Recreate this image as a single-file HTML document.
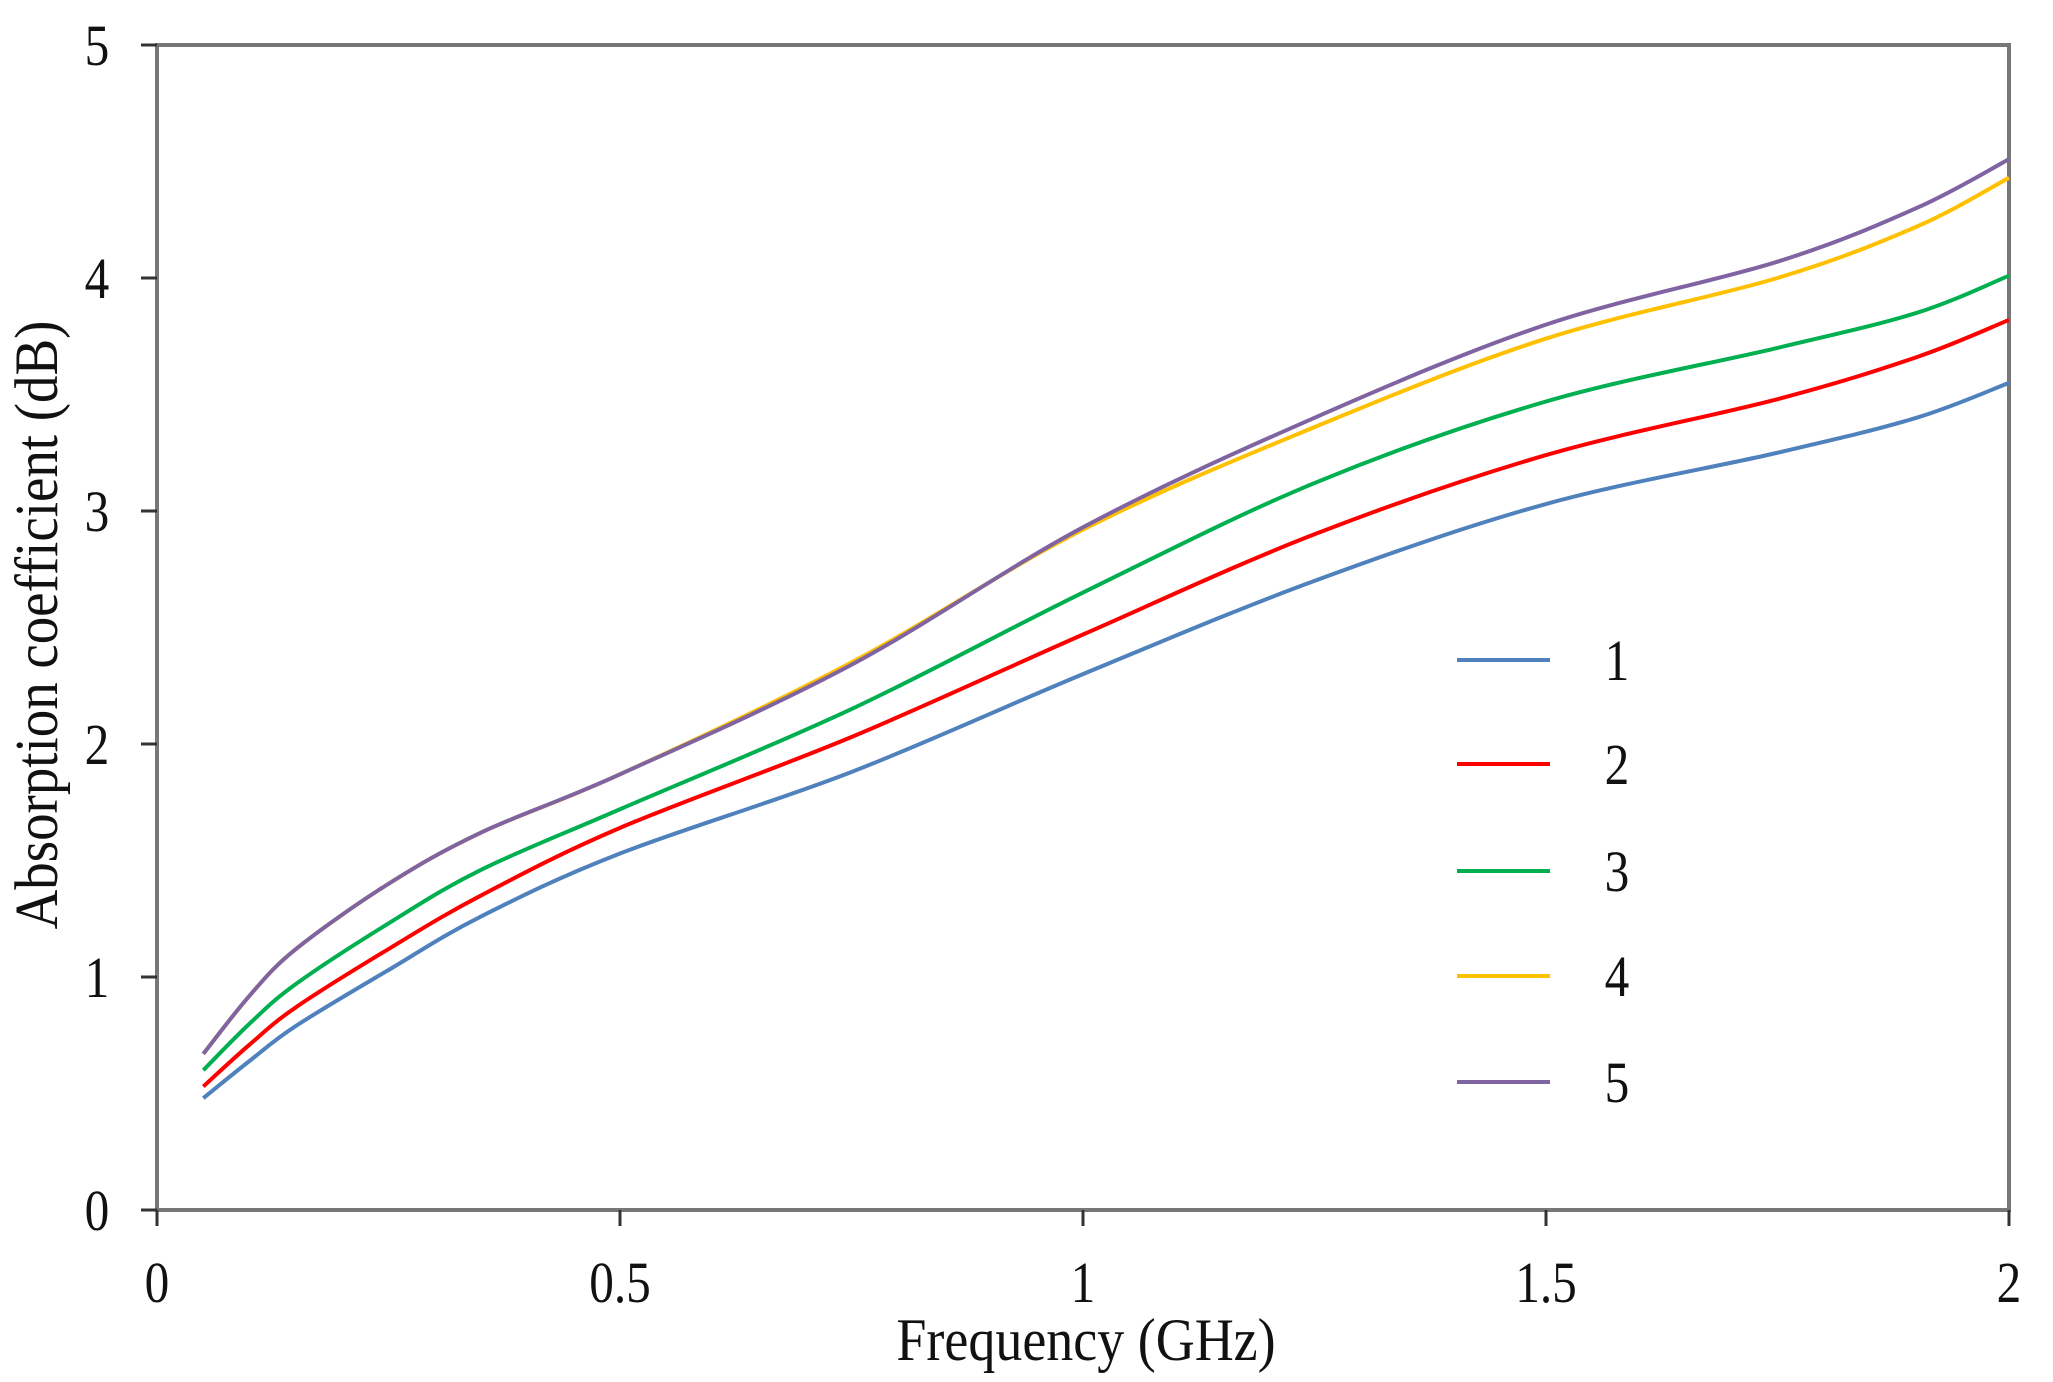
<!DOCTYPE html>
<html><head><meta charset="utf-8"><style>
html,body{margin:0;padding:0;background:#fff;}
svg{display:block;font-family:"Liberation Serif",serif;}
</style></head><body>
<svg id="chart" width="2053" height="1382" viewBox="0 0 2053 1382">
<g id="axes"></g><g id="series"></g><g id="legend"></g>
<text transform="translate(57,625) rotate(-90) scale(0.9,1)" text-anchor="middle" font-size="61" fill="#111">Absorption coefficient (dB)</text>
<text transform="translate(1086,1360) scale(0.9,1)" text-anchor="middle" font-size="60" fill="#111">Frequency (GHz)</text>
</svg>
<script>
const xVals=[0.05,0.1,0.15,0.25,0.35,0.5,0.75,1,1.25,1.5,1.75,1.9,2];
const s1=[0.48,0.64,0.79,1.03,1.26,1.53,1.88,2.30,2.70,3.03,3.25,3.40,3.55];
const s2=[0.53,0.71,0.87,1.12,1.35,1.64,2.03,2.47,2.90,3.24,3.48,3.66,3.82];
const s3=[0.60,0.80,0.97,1.23,1.46,1.72,2.15,2.65,3.12,3.47,3.70,3.85,4.01];
const s4=[0.67,0.92,1.12,1.40,1.62,1.87,2.35,2.92,3.36,3.74,4.00,4.22,4.43];
const s5=[0.67,0.92,1.12,1.40,1.62,1.87,2.34,2.93,3.40,3.80,4.07,4.30,4.51];
const seriesNames=["1","2","3","4","5"];
const colors=["#4f81bd","#ff0000","#00b050","#ffc000","#8064a2"];
const yTicks=[0,1,2,3,4,5];
const xTicks=[0,0.5,1,1.5,2];
const xTickLabels=["0","0.5","1","1.5","2"];
const NS="http://www.w3.org/2000/svg";
const L=157,R=2009,T=45,B=1210;
function sx(v){return L+(R-L)*v/2;}
function sy(v){return B-(B-T)*v/5;}
function mk(tag,attrs,parent){const e=document.createElementNS(NS,tag);for(const k in attrs)e.setAttribute(k,attrs[k]);parent.appendChild(e);return e;}
const axes=document.getElementById('axes');
let f=mk('rect',{x:L,y:T,width:R-L,height:B-T,fill:'none',stroke:'#777','stroke-width':4},axes);


yTicks.forEach(v=>{
  let t=mk('line',{x1:L-16,x2:L,y1:sy(v),y2:sy(v),stroke:'#333','stroke-width':3},axes);
  
  
  let tx=mk('text',{transform:`translate(${L-60},${sy(v)+20}) scale(0.85,1)`,'text-anchor':'middle','font-size':58,fill:'#111'},axes);
  tx.textContent=String(v);
  
  
});
xTicks.forEach((v,i)=>{
  let t=mk('line',{x1:sx(v),x2:sx(v),y1:B,y2:B+16,stroke:'#333','stroke-width':3},axes);
  
  
  let tx=mk('text',{transform:`translate(${sx(v)},${B+92}) scale(0.85,1)`,'text-anchor':'middle','font-size':58,fill:'#111'},axes);
  tx.textContent=xTickLabels[i];
  
  
});
function pathFor(ys){
  const p=xVals.map((x,i)=>[sx(x),sy(ys[i])]);
  let d=`M${p[0][0]},${p[0][1]}`;
  for(let i=0;i<p.length-1;i++){
    const p0=p[Math.max(0,i-1)],p1=p[i],p2=p[i+1],p3=p[Math.min(p.length-1,i+2)];
    const c1=[p1[0]+(p2[0]-p0[0])/6,p1[1]+(p2[1]-p0[1])/6];
    const c2=[p2[0]-(p3[0]-p1[0])/6,p2[1]-(p3[1]-p1[1])/6];
    d+=` C${c1[0]},${c1[1]} ${c2[0]},${c2[1]} ${p2[0]},${p2[1]}`;
  }
  return d;
}
const all=[s1,s2,s3,s4,s5];
const sg=document.getElementById('series');
all.forEach((ys,i)=>{
  let p=mk('path',{d:pathFor(ys),fill:'none',stroke:colors[i],'stroke-width':4,'stroke-linejoin':'round'},sg);
  
  
});
const lg=document.getElementById('legend');
const legY=[660,764,871,976,1082];
seriesNames.forEach((n,i)=>{
  let l=mk('line',{x1:1457,x2:1550,y1:legY[i],y2:legY[i],stroke:colors[i],'stroke-width':4},lg);
  
  
  let t=mk('text',{transform:`translate(1617,${legY[i]+20}) scale(0.85,1)`,'text-anchor':'middle','font-size':58,fill:'#111'},lg);
  t.textContent=n;
  
  
});
</script>
</body></html>
